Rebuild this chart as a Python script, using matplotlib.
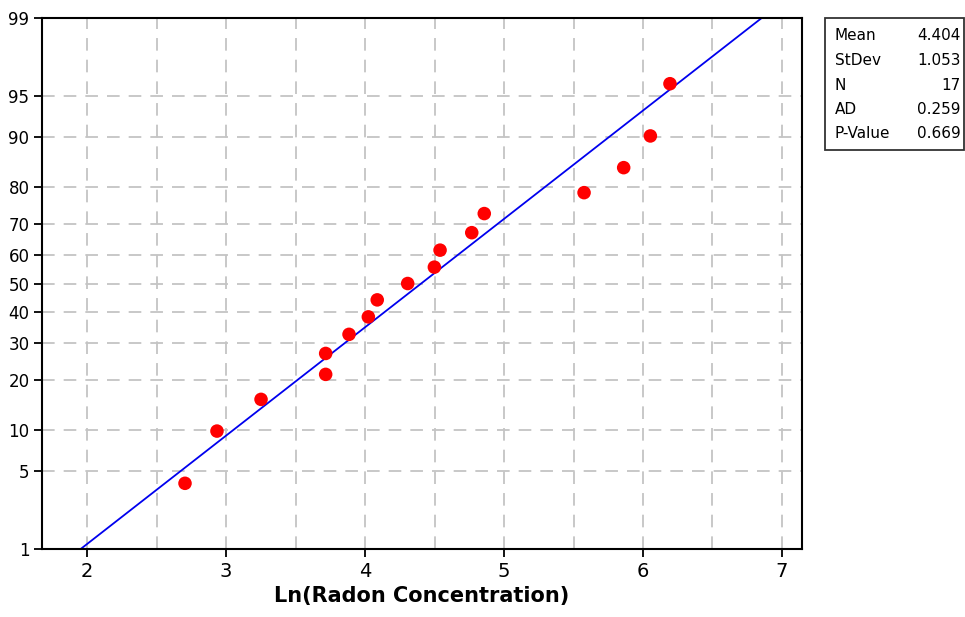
from statistics import NormalDist
import numpy as np
import matplotlib
matplotlib.use('Agg')
import matplotlib.pyplot as plt

# data
ln_radon = [2.705, 2.935, 3.252, 3.717, 3.717, 3.885, 4.024, 4.088, 4.307,
            4.499, 4.540, 4.768, 4.858, 5.576, 5.861, 6.053, 6.194]
percent = [4.0, 9.8, 15.5, 21.3, 27.0, 32.8, 38.5, 44.3, 50.0,
           55.7, 61.5, 67.2, 73.0, 78.7, 84.5, 90.2, 96.0]
mean, stdev = 4.404, 1.053
stat_names = ['Mean', 'StDev', 'N', 'AD', 'P-Value']
stat_values = ['4.404', '1.053', '17', '0.259', '0.669']
y_ticks = [1, 5, 10, 20, 30, 40, 50, 60, 70, 80, 90, 95, 99]
x_ticks = [2, 3, 4, 5, 6, 7]

nd = NormalDist()


def z(p):
    """percent -> standard normal quantile"""
    return nd.inv_cdf(p / 100.0)


fig = plt.figure(figsize=(9.65, 6.17), dpi=100)
ax = fig.add_axes([0.0435, 0.1102, 0.7876, 0.8606])

# grid
for gx in np.arange(2.0, 7.01, 0.5):
    ax.axvline(gx, color='#c4c4c4', lw=1.3, dashes=(7, 5), zorder=0)
for p in y_ticks[1:-1]:
    ax.axhline(z(p), color='#c4c4c4', lw=1.3, dashes=(7, 5), zorder=0)

# fitted line
line_p = [1, 99]
line_x = [mean + stdev * z(p) for p in line_p]
ax.plot(line_x, [z(p) for p in line_p], color='#0000ee', lw=1.3, zorder=2)

# points
ax.scatter(ln_radon, [z(p) for p in percent], s=95, color='#ff0000',
           edgecolors='none', zorder=3)

ax.set_xlim(1.676, 7.144)
ax.set_ylim(z(1), z(99))
ax.set_xticks(x_ticks)
ax.set_xticklabels([str(t) for t in x_ticks], fontsize=14)
ax.set_yticks([z(p) for p in y_ticks])
ax.set_yticklabels([str(t) for t in y_ticks], fontsize=12)
ax.tick_params(direction='out', length=6, width=1.3, pad=3)
for sp in ax.spines.values():
    sp.set_linewidth(1.5)
ax.set_xlabel('Ln(Radon Concentration)', fontsize=15, fontweight='bold', labelpad=4)

# stats box
bx0, by0, bx1, by1 = 825, 18, 964, 150
W, H = 965, 617
fig.patches.append(plt.Rectangle((bx0 / W, 1 - by1 / H), (bx1 - bx0) / W, (by1 - by0) / H,
                                 transform=fig.transFigure, fill=False, lw=1.3,
                                 edgecolor='#333333'))
for i, (name, val) in enumerate(zip(stat_names, stat_values)):
    yy = 1 - (36 + i * 24.5) / H
    fig.text(835 / W, yy, name, fontsize=11, va='center', ha='left')
    fig.text(961 / W, yy, val, fontsize=11, va='center', ha='right')

fig.savefig('out.png', dpi=100)
